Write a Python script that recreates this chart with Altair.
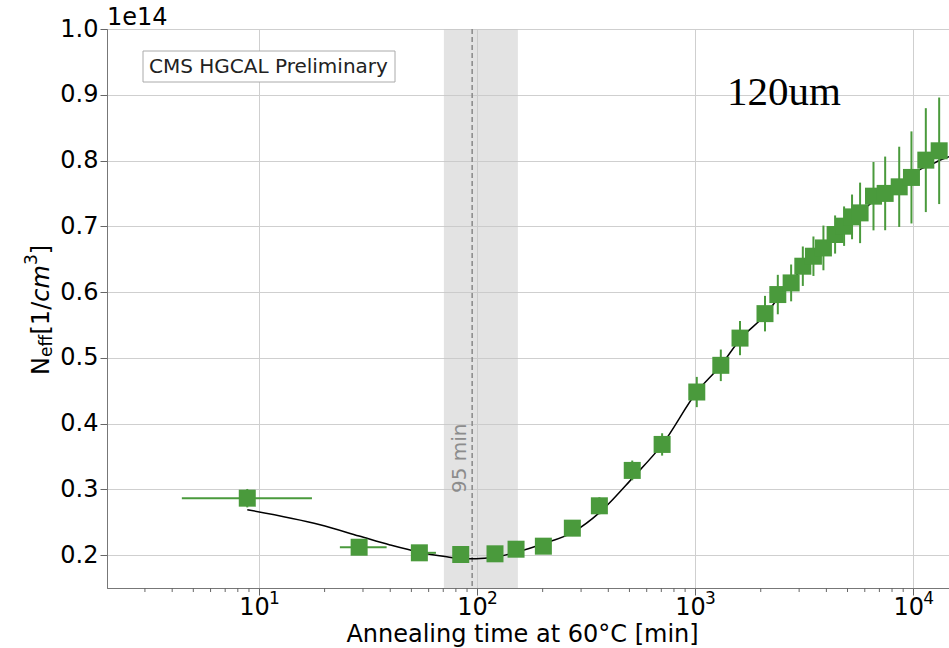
import altair as alt
import pandas as pd

# ---------------- data ----------------
time_min = [8.84, 28.8, 54.4, 84.2, 120.9, 151, 201.5, 273.6, 364, 515, 706, 1018,
            1312, 1607, 2092, 2395, 2757, 3119, 3489, 3877, 4386, 4823, 5245, 5710,
            6578, 7441, 8630, 9822, 11430, 13160]
neff = [0.2866, 0.212, 0.2035, 0.2009, 0.2020, 0.209, 0.2136, 0.241, 0.275, 0.3288,
        0.3683, 0.448, 0.4886, 0.530, 0.5672, 0.5962, 0.6139, 0.6393, 0.6545, 0.6671,
        0.6875, 0.7002, 0.7143, 0.7204, 0.7458, 0.750, 0.760, 0.7743, 0.8006, 0.8148]
neff_err = [0.014, 0.008, 0.008, 0.008, 0.008, 0.009, 0.010, 0.012, 0.013, 0.015,
            0.017, 0.023, 0.024, 0.026, 0.027, 0.030, 0.028, 0.030, 0.030, 0.034,
            0.029, 0.030, 0.034, 0.046, 0.052, 0.056, 0.061, 0.070, 0.079, 0.081]

xerr_time = [8.84, 28.8, 54.4]
xerr_neff = [0.2866, 0.212, 0.2035]
xerr_lo = [4.43, 23.5, 50.2]
xerr_hi = [17.5, 38.5, 64.8]

fit_time = [8.84, 19.06, 28.8, 39.9, 54.4, 71.3, 84.2, 99, 120.9, 152.5, 201,
            276, 366.6, 521, 706, 1018, 1312, 1607, 2092, 2395, 3000, 4000, 5000,
            6000, 7000, 8000, 10000, 10770, 12000, 13160, 14600]
fit_neff = [0.269, 0.2461, 0.229, 0.2155, 0.2045, 0.1979, 0.1948, 0.1944,
            0.197, 0.2045, 0.2172, 0.235, 0.2653, 0.3186, 0.368, 0.448, 0.4886,
            0.528, 0.565, 0.590, 0.630, 0.672, 0.703, 0.727, 0.745, 0.758, 0.779,
            0.7865, 0.793, 0.800, 0.806]

band_start = [70.5]
band_end = [154]
min_time = [95]

x_major = [10, 100, 1000, 10000]
x_major_exp = ["1", "2", "3", "4"]
x_minor = [3, 4, 5, 6, 7, 8, 9, 20, 30, 40, 50, 60, 70, 80, 90,
           200, 300, 400, 500, 600, 700, 800, 900,
           2000, 3000, 4000, 5000, 6000, 7000, 8000, 9000]
y_ticks = [0.2, 0.3, 0.4, 0.5, 0.6, 0.7, 0.8, 0.9, 1.0]

# ---------------- layout ----------------
PLOT_W = 842
PLOT_H = 559
GREEN = "#4a9a3c"
FONT = "DejaVu Sans"

pts = pd.DataFrame({"t": time_min, "v": neff, "e": neff_err})
pts["lo"] = pts["v"] - pts["e"]
pts["hi"] = pts["v"] + pts["e"]
xe = pd.DataFrame({"t": xerr_time, "v": xerr_neff, "tlo": xerr_lo, "thi": xerr_hi})
fit = pd.DataFrame({"t": fit_time, "v": fit_neff})
band = pd.DataFrame({"s": band_start, "e": band_end})
vline = pd.DataFrame({"t": min_time})
minor = pd.DataFrame({"t": x_minor})
exps = pd.DataFrame({"t": x_major, "p": x_major_exp})

xs = alt.Scale(type="log", domain=[2.01, 14600], nice=False)
ys = alt.Scale(domain=[0.15, 1.0], nice=False, zero=False)

x_axis = alt.Axis(
    values=x_major,
    labelExpr="'10'", labelOffset=-5,
    tickSize=7, labelPadding=0, grid=True,
    title="Annealing time at 60°C [min]",
    titleX=415, titleY=53, titleAlign="center", titleBaseline="alphabetic",
)
y_axis = alt.Axis(values=y_ticks, format=".1f", tickSize=7, labelPadding=2,
                  grid=True, title="")


def X(field):
    return alt.X(field, type="quantitative", scale=xs, axis=x_axis)


def Y(field):
    return alt.Y(field, type="quantitative", scale=ys, axis=y_axis)


band_layer = alt.Chart(band).mark_rect(color="#c8c8c8", opacity=0.5).encode(
    x=X("s"), x2="e", y=alt.value(0), y2=alt.value(PLOT_H))

vline_layer = alt.Chart(vline).mark_rule(color="#888888", strokeDash=[5, 3], strokeWidth=1.5).encode(
    x=X("t"), y=alt.value(0), y2=alt.value(PLOT_H))

vline_text = alt.Chart(vline).mark_text(
    text="95 min", angle=270, align="left", baseline="alphabetic", dy=-6.5,
    font=FONT, fontSize=20, color="#8c8c8c").encode(x=X("t"), y=alt.value(464))

fit_layer = alt.Chart(fit).mark_line(color="black", strokeWidth=1.5, interpolate="monotone").encode(
    x=X("t"), y=Y("v"))

yerr_layer = alt.Chart(pts).mark_rule(color=GREEN, strokeWidth=2).encode(
    x=X("t"), y=Y("lo"), y2="hi")

xerr_layer = alt.Chart(xe).mark_rule(color=GREEN, strokeWidth=2).encode(
    x=X("tlo"), x2="thi", y=Y("v"))

sq_layer = alt.Chart(pts).mark_square(size=289, color=GREEN, opacity=1).encode(
    x=X("t"), y=Y("v"))

minor_layer = alt.Chart(minor).mark_rule(color="#666666", strokeWidth=1).encode(
    x=X("t"), y=alt.value(PLOT_H), y2=alt.value(PLOT_H + 4))

exp_layer = alt.Chart(exps).mark_text(
    align="left", baseline="alphabetic", dx=10, font=FONT, fontSize=17, color="black"
).encode(x=X("t"), y=alt.value(PLOT_H + 16), text="p:N")

box_layer = alt.Chart(pd.DataFrame({"a": [0]})).mark_rect(
    fill="white", stroke="#aaaaaa", strokeWidth=1).encode(
    x=alt.value(36), x2=alt.value(288), y=alt.value(22), y2=alt.value(53))

cms_text = alt.Chart(pd.DataFrame({"a": [0]})).mark_text(
    text="CMS HGCAL Preliminary", align="left", baseline="alphabetic",
    font=FONT, fontSize=20, color="#222222").encode(x=alt.value(42), y=alt.value(44))

um_text = alt.Chart(pd.DataFrame({"a": [0]})).mark_text(
    text="120um", align="left", baseline="alphabetic",
    font="Liberation Serif", fontSize=41, color="black").encode(x=alt.value(620), y=alt.value(76))

exp_text = alt.Chart(pd.DataFrame({"a": [0]})).mark_text(
    text="1e14", align="left", baseline="alphabetic",
    font=FONT, fontSize=24, color="black").encode(x=alt.value(0), y=alt.value(-4))


def ytitle(txt, x, y, size=24, style="normal"):
    return alt.Chart(pd.DataFrame({"a": [0]})).mark_text(
        text=txt, angle=270, align="left", baseline="alphabetic",
        font=FONT, fontSize=size, fontStyle=style, color="black").encode(
        x=alt.value(x), y=alt.value(y))


yt = [
    ytitle("N", -58, 346),
    ytitle("eff", -55, 328, size=17),
    ytitle("[1/", -58, 305.5),
    ytitle("cm", -58, 272.7, style="italic"),
    ytitle("3", -70, 236.1, size=17),
    ytitle("]", -58, 225.3),
]

chart = alt.layer(
    band_layer, vline_layer, vline_text, fit_layer, yerr_layer, xerr_layer, sq_layer,
    minor_layer, exp_layer, box_layer, cms_text, um_text, exp_text, *yt
).properties(
    width=PLOT_W, height=PLOT_H,
    autosize=alt.AutoSizeParams(type="none"),
    padding={"left": 107, "top": 29, "right": 0, "bottom": 60},
).configure_view(
    stroke="#777777", strokeWidth=1
).configure_axis(
    labelFont=FONT, labelFontSize=24, labelColor="black",
    titleFont=FONT, titleFontSize=24, titleFontWeight="normal", titleColor="black",
    domainColor="#777777", tickColor="#666666", gridColor="#cfcfcf", gridWidth=1,
)

chart.save("out.html", embed_options={"renderer": "svg", "actions": False})
